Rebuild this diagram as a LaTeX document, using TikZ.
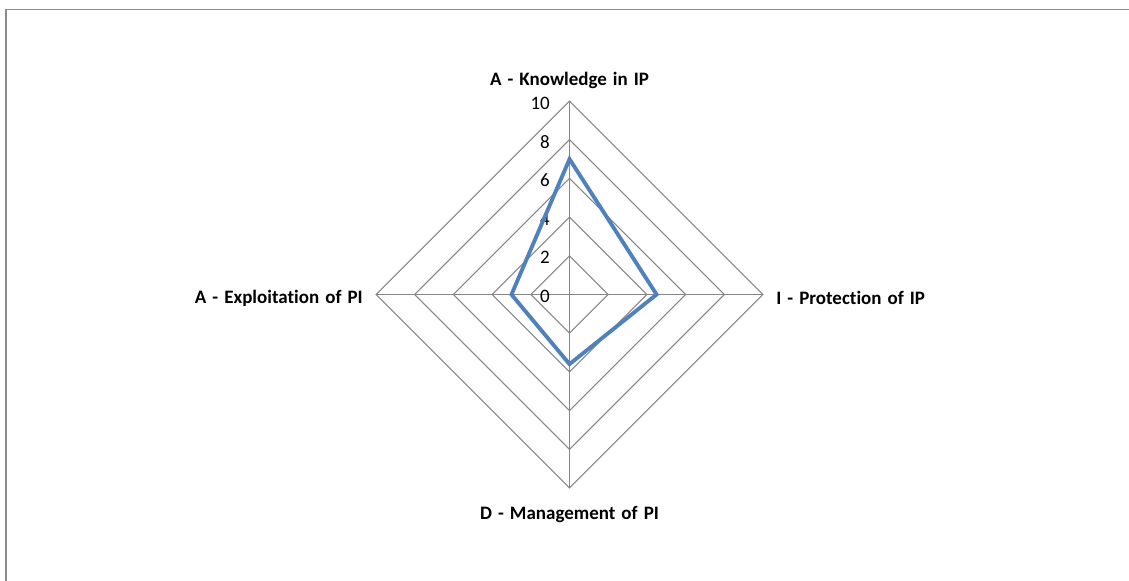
\documentclass[tikz,border=0pt]{standalone}
\usepackage{fontspec}
\setmainfont[Ligatures=NoCommon]{Carlito}
\usepackage{tikz}
\usetikzlibrary{positioning}
\definecolor{gridgray}{RGB}{134,134,134}
\definecolor{seriesblue}{RGB}{79,129,189}
\newcommand{\widespaces}{\spaceskip=0.32em plus 0.1em\relax}
\tikzstyle{axislabel} = [font=\fontsize{10.8}{12}\selectfont\bfseries\widespaces, inner sep=0pt]
\tikzstyle{ticklabel} = [font=\fontsize{10.8}{12}\selectfont, anchor=east, inner sep=0pt]
\tikzstyle{gridline} = [draw=gridgray, line width=0.6pt]
\tikzstyle{series} = [draw=seriesblue, line width=2.2pt, line join=miter]

\begin{document}
\begin{tikzpicture}[x=0.02cm, y=-0.02cm]
        \useasboundingbox (0,0) rectangle (1129,581);
        % Frame
        \draw [draw=gray!90, line width=1.1pt] (6,581) -- (6,9.5) -- (1129,9.5);
        \coordinate (c) at (569.5,294.5);

        \begin{scope}[shift={(c)}, x=0.387cm, y=0.387cm]
        % Axes ends
        \coordinate (top) at (0,10);
        \coordinate (right) at (10,0);
        \coordinate (bottom) at (0,-10);
        \coordinate (left) at (-10,0);

        % Grid
        \foreach \r in {2,4,6,8,10}
            \draw [gridline] (0,\r) -- (\r,0) -- (0,-\r) -- (-\r,0) -- cycle;
        \draw [gridline] (c) -- (top);
        \draw [gridline] (c) -- (right);
        \draw [gridline] (c) -- (bottom);
        \draw [gridline] (c) -- (left);

        % Tick labels
        \foreach \r in {0,2,4,6,8,10}
            \node (tick\r) [ticklabel] at (-1.0,\r-0.1) {\r};

        % Axis labels
        \node (knowledge) [axislabel] at (0,11.05) {A - Knowledge in IP};
        \node (protection) [axislabel, anchor=west] at (10.67,-0.18) {I - Protection of IP};
        \node (management) [axislabel] at (0,-11.35) {D - Management of PI};
        \node (exploitation) [axislabel, anchor=east] at (-10.67,-0.18) {A - Exploitation of PI};

        % Series
        \coordinate (pa) at (0,7);
        \coordinate (pb) at (4.5,0);
        \coordinate (pc) at (0,-3.6);
        \coordinate (pd) at (-3,0);
        \draw [series] (pa) -- (pb) -- (pc) -- (pd) -- cycle;
        \end{scope}
    \end{tikzpicture}
\end{document}
